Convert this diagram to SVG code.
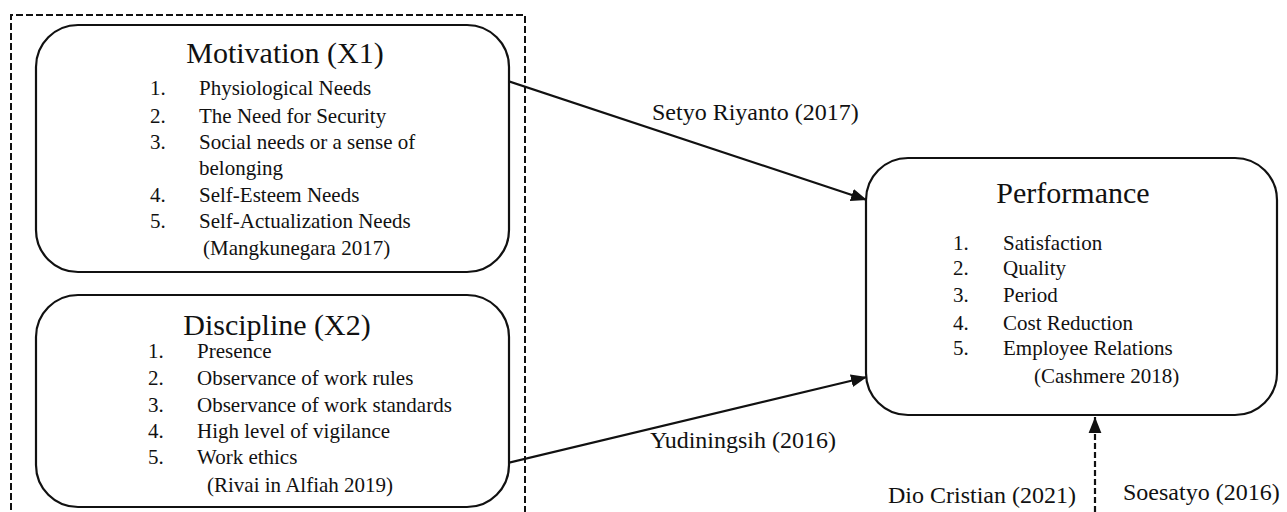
<svg xmlns="http://www.w3.org/2000/svg" width="1287" height="512" viewBox="0 0 1287 512">
<style>
text{font-family:"Liberation Serif","Times New Roman",serif;fill:#111}
.t{font-size:30px}
.i{font-size:21px}
.l{font-size:24px}
.box{fill:#fff;stroke:#111;stroke-width:2.2}
.con{stroke:#111;stroke-width:2.2;fill:none}
</style>
<defs>
<marker id="ahb" viewBox="0 0 10 10" refX="10" refY="5" markerWidth="16" markerHeight="16" markerUnits="userSpaceOnUse" orient="auto">
<path d="M0,1 L10,5 L0,9 z" fill="#111"/>
</marker>
</defs>
<rect width="1287" height="512" fill="#fff"/>
<path d="M11,530 V15 H525 V530" fill="none" stroke="#111" stroke-width="2" stroke-dasharray="7,3"/>
<g id="connectors">
<line class="con" x1="508" y1="81" x2="867" y2="200" marker-end="url(#ahb)"/>
<line class="con" x1="508" y1="463" x2="867" y2="377" marker-end="url(#ahb)"/>
<line class="con" x1="1095" y1="512" x2="1095" y2="417" stroke-dasharray="6,3" marker-end="url(#ahb)"/>
<text class="l" x="652" y="120">Setyo Riyanto (2017)</text>
<text class="l" x="650" y="448">Yudiningsih (2016)</text>
<text class="l" x="888" y="503">Dio Cristian (2021)</text>
<text class="l" x="1123" y="500">Soesatyo (2016)</text>
</g>
<g id="motivation">
<rect class="box" x="36" y="25" width="473" height="247" rx="42"/>
<text class="t" x="285" y="63" text-anchor="middle">Motivation (X1)</text>
<text class="i" x="150" y="95">1.</text><text class="i" x="199" y="95">Physiological Needs</text>
<text class="i" x="150" y="123">2.</text><text class="i" x="199" y="123">The Need for Security</text>
<text class="i" x="150" y="149">3.</text><text class="i" x="199" y="149">Social needs or a sense of</text>
<text class="i" x="199" y="175">belonging</text>
<text class="i" x="150" y="202">4.</text><text class="i" x="199" y="202">Self-Esteem Needs</text>
<text class="i" x="150" y="228">5.</text><text class="i" x="199" y="228">Self-Actualization Needs</text>
<text class="i" x="203" y="255">(Mangkunegara 2017)</text>
</g>
<g id="discipline">
<rect class="box" x="36" y="295" width="473" height="212" rx="42"/>
<text class="t" x="277" y="335" text-anchor="middle">Discipline (X2)</text>
<text class="i" x="148" y="358">1.</text><text class="i" x="197" y="358">Presence</text>
<text class="i" x="148" y="385">2.</text><text class="i" x="197" y="385">Observance of work rules</text>
<text class="i" x="148" y="412">3.</text><text class="i" x="197" y="412">Observance of work standards</text>
<text class="i" x="148" y="438">4.</text><text class="i" x="197" y="438">High level of vigilance</text>
<text class="i" x="148" y="464">5.</text><text class="i" x="197" y="464">Work ethics</text>
<text class="i" x="207" y="492">(Rivai in Alfiah 2019)</text>
</g>
<g id="performance">
<rect class="box" x="866" y="158" width="411" height="257" rx="42"/>
<text class="t" x="1073" y="203" text-anchor="middle">Performance</text>
<text class="i" x="953" y="250">1.</text><text class="i" x="1003" y="250">Satisfaction</text>
<text class="i" x="953" y="275">2.</text><text class="i" x="1003" y="275">Quality</text>
<text class="i" x="953" y="302">3.</text><text class="i" x="1003" y="302">Period</text>
<text class="i" x="953" y="330">4.</text><text class="i" x="1003" y="330">Cost Reduction</text>
<text class="i" x="953" y="355">5.</text><text class="i" x="1003" y="355">Employee Relations</text>
<text class="i" x="1034" y="383">(Cashmere 2018)</text>
</g>
</svg>
